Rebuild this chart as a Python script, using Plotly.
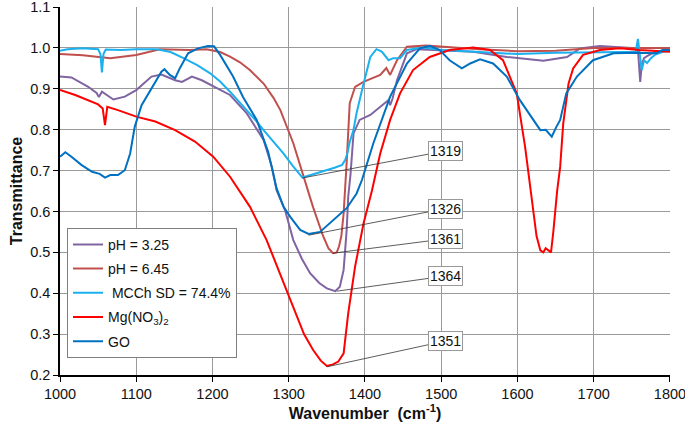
import plotly.graph_objects as go

# ---------------- data ----------------
names = ["pH = 3.25", "pH = 6.45", " MCCh SD = 74.4%", "Mg(NO<sub>3</sub>)<sub>2</sub>", "GO"]
colors = ["#8064A2", "#C0504D", "#1BB0EE", "#FF0000", "#0070C0"]

ph325_x = [1000, 1015, 1037, 1048, 1051, 1055, 1070, 1085, 1100, 1120, 1133, 1151, 1160, 1173, 1186, 1201,
           1223, 1245, 1267, 1278, 1284, 1295, 1306, 1317, 1328, 1340, 1350, 1361, 1367, 1372, 1376, 1378,
           1381, 1385, 1393, 1407, 1420, 1431, 1433, 1436, 1442, 1455, 1468, 1494, 1542, 1586, 1634, 1665,
           1682, 1708, 1750, 1758, 1761, 1763, 1766, 1770, 1780, 1800]
ph325_y = [0.930, 0.928, 0.905, 0.890, 0.880, 0.893, 0.874, 0.881, 0.897, 0.930, 0.935, 0.921, 0.917, 0.930, 0.921, 0.907,
           0.885, 0.840, 0.775, 0.709, 0.652, 0.604, 0.530, 0.485, 0.449, 0.425, 0.412, 0.405, 0.416, 0.457, 0.555, 0.636,
           0.690, 0.791, 0.824, 0.836, 0.856, 0.873, 0.860, 0.875, 0.921, 0.987, 0.997, 0.995, 0.991, 0.978, 0.969, 0.978,
           0.999, 1.005, 1.000, 0.995, 0.917, 0.960, 0.975, 0.980, 0.990, 0.995]

ph645_x = [1000, 1030, 1066, 1100, 1131, 1170, 1192, 1210, 1223, 1236, 1249, 1267, 1280, 1289, 1306, 1320,
           1332, 1345, 1352, 1358, 1363, 1366, 1369, 1372, 1374, 1376, 1380, 1387, 1398, 1420, 1428, 1433,
           1442, 1455, 1480, 1500, 1550, 1600, 1650, 1700, 1760, 1800]
ph645_y = [0.985, 0.982, 0.975, 0.983, 0.997, 0.995, 0.997, 0.990, 0.979, 0.965, 0.946, 0.913, 0.878, 0.848, 0.767, 0.685,
           0.610, 0.540, 0.510, 0.498, 0.500, 0.515, 0.540, 0.595, 0.677, 0.720, 0.865, 0.905, 0.917, 0.934, 0.951, 0.934,
           0.970, 1.003, 1.006, 1.003, 0.997, 0.992, 0.993, 1.000, 1.000, 1.000]

mcch_x = [1000, 1010, 1030, 1050, 1053, 1055, 1057, 1060, 1080, 1100, 1127, 1145, 1162, 1180, 1197, 1210,
          1223, 1236, 1249, 1258, 1267, 1280, 1293, 1305, 1318, 1330, 1345, 1360, 1370, 1374, 1377, 1380,
          1385, 1389, 1397, 1407, 1415, 1422, 1431, 1437, 1446, 1455, 1476, 1500, 1550, 1600, 1650, 1700,
          1740, 1755, 1758, 1761, 1763, 1766, 1770, 1775, 1780, 1790, 1800]
mcch_y = [0.993, 0.997, 0.999, 0.997, 0.985, 0.940, 0.985, 0.996, 0.995, 0.997, 0.997, 0.990, 0.975, 0.958, 0.938, 0.918,
          0.893, 0.866, 0.840, 0.820, 0.799, 0.770, 0.742, 0.712, 0.683, 0.690, 0.698, 0.707, 0.714, 0.726, 0.743, 0.770,
          0.800, 0.841, 0.904, 0.978, 0.997, 0.991, 0.970, 0.975, 0.975, 0.995, 1.001, 0.995, 0.990, 0.985, 0.988, 0.990,
          0.990, 0.990, 1.022, 0.975, 0.946, 0.970, 0.963, 0.975, 0.983, 0.990, 0.993]

mg_x = [1000, 1020, 1050, 1056, 1059, 1062, 1076, 1100, 1125, 1151, 1177, 1201, 1223, 1249, 1271, 1289,
        1306, 1320, 1332, 1342, 1350, 1358, 1365, 1372, 1378, 1387, 1398, 1409, 1420, 1433, 1446, 1463,
        1485, 1511, 1542, 1564, 1581, 1599, 1610, 1619, 1625, 1630, 1634, 1637, 1640, 1644, 1647, 1652,
        1656, 1660, 1667, 1673, 1686, 1708, 1734, 1760, 1800]
mg_y = [0.897, 0.885, 0.862, 0.852, 0.811, 0.856, 0.848, 0.832, 0.820, 0.799, 0.771, 0.734, 0.685, 0.612, 0.530, 0.445,
        0.367, 0.300, 0.261, 0.235, 0.222, 0.226, 0.233, 0.253, 0.351, 0.465, 0.570, 0.650, 0.742, 0.824, 0.889, 0.946,
        0.978, 0.995, 1.001, 0.995, 0.970, 0.889, 0.758, 0.620, 0.540, 0.505, 0.500, 0.510, 0.505, 0.500, 0.550, 0.650,
        0.709, 0.815, 0.913, 0.950, 0.983, 0.995, 0.999, 0.995, 0.991]

go_x = [1000, 1007, 1015, 1028, 1042, 1052, 1059, 1066, 1076, 1085, 1092, 1098, 1107, 1120, 1133, 1137,
        1144, 1151, 1157, 1168, 1181, 1194, 1202, 1210, 1227, 1240, 1258, 1273, 1284, 1293, 1302, 1315,
        1326, 1341, 1354, 1363, 1376, 1389, 1396, 1411, 1433, 1455, 1472, 1485, 1498, 1511, 1527, 1538,
        1551, 1568, 1586, 1603, 1621, 1630, 1637, 1645, 1651, 1656, 1664, 1678, 1699, 1726, 1756, 1782,
        1790, 1800]
go_y = [0.734, 0.745, 0.734, 0.714, 0.697, 0.692, 0.683, 0.689, 0.689, 0.701, 0.742, 0.807, 0.860, 0.901, 0.942, 0.948,
        0.934, 0.926, 0.950, 0.987, 0.999, 1.005, 1.004, 0.983, 0.930, 0.880, 0.824, 0.746, 0.657, 0.612, 0.587, 0.555,
        0.545, 0.550, 0.571, 0.587, 0.608, 0.644, 0.677, 0.767, 0.881, 0.962, 0.999, 1.005, 0.995, 0.970, 0.950, 0.962,
        0.972, 0.962, 0.930, 0.873, 0.824, 0.799, 0.800, 0.783, 0.807, 0.824, 0.889, 0.930, 0.970, 0.987, 0.988, 0.987,
        0.995, 0.995]

series_x = [ph325_x, ph645_x, mcch_x, mg_x, go_x]
series_y = [ph325_y, ph645_y, mcch_y, mg_y, go_y]

# peak labels: text, peak point (x, y), label box centre (x, y)
peak_labels = ["1319", "1326", "1361", "1364", "1351"]
peak_x = [1318, 1326, 1358, 1363, 1350]
peak_y = [0.682, 0.542, 0.498, 0.405, 0.220]
label_x = [1505, 1505, 1505, 1505, 1505]
label_y = [0.748, 0.607, 0.533, 0.442, 0.283]

x_ticks = [1000, 1100, 1200, 1300, 1400, 1500, 1600, 1700, 1800]
y_ticks = [0.2, 0.3, 0.4, 0.5, 0.6, 0.7, 0.8, 0.9, 1.0, 1.1]

FONT = "Arial, Liberation Sans, sans-serif"

fig = go.Figure()
for i, (n, c) in enumerate(zip(names, colors)):
    fig.add_trace(go.Scatter(x=series_x[i], y=series_y[i], mode="lines", name=n,
                             line=dict(color=c, width=2), legendgroup=str(i)))

for t, px, py, lx, ly in zip(peak_labels, peak_x, peak_y, label_x, label_y):
    fig.add_annotation(x=px, y=py, xref="x", yref="y", ax=lx, ay=ly, axref="x", ayref="y",
                       text=t, showarrow=True, arrowhead=0, arrowwidth=0.8, arrowcolor="#333333",
                       standoff=0, startstandoff=0,
                       font=dict(family=FONT, size=14, color="#111111"),
                       bgcolor="white", bordercolor="#999999", borderwidth=1, borderpad=1)

fig.update_layout(
    width=685, height=425,
    margin=dict(l=60, r=15, t=7, b=50),
    paper_bgcolor="white", plot_bgcolor="white",
    font=dict(family=FONT, size=14.5, color="#111111"),
    showlegend=True,
    legend=dict(x=0.0115, y=0.40, xanchor="left", yanchor="top",
                bgcolor="white", bordercolor="#7f7f7f", borderwidth=1,
                font=dict(family=FONT, size=14, color="#111111"),
                traceorder="grouped", tracegroupgap=3, itemwidth=30),
    xaxis=dict(range=[1000, 1800.05], tickvals=x_ticks, ticktext=[str(v) for v in x_ticks],
               showgrid=True, gridcolor="#9a9a9a", gridwidth=1,
               showline=True, linecolor="black", linewidth=1.5,
               ticks="outside", ticklen=5, tickcolor="black", zeroline=False,
               ticklabeloverflow="allow", automargin=False,
               title=dict(text="<b>Wavenumber  (cm<sup>-1</sup>)</b>", font=dict(size=16), standoff=2)),
    yaxis=dict(range=[0.2, 1.1002], tickvals=y_ticks, ticktext=[f"{v:.1f}" for v in y_ticks],
               showgrid=True, gridcolor="#9a9a9a", gridwidth=1,
               showline=True, linecolor="black", linewidth=1.5,
               ticks="outside", ticklen=5, tickcolor="black", zeroline=False,
               ticklabeloverflow="allow", automargin=False,
               title=dict(text="<b>Transmittance</b>", font=dict(size=16), standoff=4)),
)

fig.write_html("out.html", config={"displayModeBar": False},
               post_script="document.body.style.margin='0';")
